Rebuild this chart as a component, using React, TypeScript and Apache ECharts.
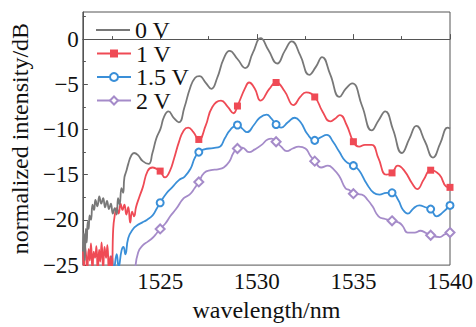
import React, { useEffect, useRef } from "react";
import * as echarts from "echarts";

const SERIES_NAMES = ["0 V", "1 V", "1.5 V", "2 V"];
const COLORS = ["#787878", "#ef4a55", "#3a8fd8", "#a58bc9"];
const MARKER_X = [1525, 1527, 1529, 1531, 1533, 1535, 1537, 1539, 1540];
const X_LABELS = [1525, 1530, 1535, 1540];
const X_MINOR = [1522.5, 1527.5, 1532.5, 1537.5];
const Y_LABELS = [-25, -20, -15, -10, -5, 0];
const Y_MINOR = [-22.5, -17.5, -12.5, -7.5, -2.5, 2.5];

const WL_0V = [1521.0, 1521.05, 1521.1, 1521.15, 1521.2, 1521.25, 1521.3, 1521.35, 1521.42, 1521.5, 1521.58, 1521.65, 1521.75, 1521.85, 1521.95, 1522.05, 1522.15, 1522.25, 1522.35, 1522.45, 1522.55, 1522.65, 1522.75, 1522.82, 1522.9, 1523.0, 1523.08, 1523.15, 1523.25, 1523.35, 1523.5, 1523.65, 1523.84, 1524.1, 1524.4, 1524.6, 1524.8, 1525.02, 1525.2, 1525.43, 1525.7, 1525.97, 1526.25, 1526.55, 1526.8, 1527.03, 1527.35, 1527.65, 1527.95, 1528.3, 1528.59, 1529.0, 1529.4, 1529.8, 1530.2, 1530.6, 1531.06, 1531.45, 1531.81, 1532.25, 1532.72, 1533.05, 1533.38, 1533.8, 1534.28, 1534.6, 1534.94, 1535.45, 1535.95, 1536.3, 1536.65, 1537.05, 1537.51, 1537.9, 1538.26, 1538.7, 1539.12, 1539.5, 1539.88, 1540];
const DB_0V = [-23.5, -21.5, -24.5, -21.0, -22.5, -20.2, -21.0, -19.5, -20.0, -18.3, -18.9, -17.8, -18.5, -17.4, -18.2, -17.6, -18.6, -17.9, -18.8, -18.2, -19.3, -18.7, -19.4, -17.6, -18.3, -16.5, -17.0, -15.3, -14.6, -13.8, -12.9, -12.6, -12.8, -13.5, -13.8, -12.6, -11.0, -9.9, -8.6, -8.0, -8.7, -9.2, -7.6, -5.4, -4.3, -4.1, -4.8, -5.5, -4.3, -2.1, -1.3, -2.2, -3.2, -1.5, 0.1, -1.2, -2.7, -1.3, -0.25, -1.8, -3.95, -3.1, -2.0, -3.9, -6.4, -5.5, -4.9, -7.4, -10.1, -9.0, -8.0, -10.0, -12.6, -11.0, -9.6, -11.3, -13.1, -11.5, -9.8, -9.9];

const WL_1V = [1521.0, 1521.05, 1521.1, 1521.17, 1521.22, 1521.3, 1521.36, 1521.42, 1521.5, 1521.56, 1521.63, 1521.7, 1521.77, 1521.84, 1521.9, 1521.97, 1522.05, 1522.12, 1522.2, 1522.27, 1522.35, 1522.42, 1522.5, 1522.57, 1522.65, 1522.75, 1522.85, 1522.95, 1523.05, 1523.15, 1523.25, 1523.35, 1523.45, 1523.55, 1523.65, 1523.75, 1523.9, 1524.1, 1524.35, 1524.6, 1524.85, 1525.0, 1525.25, 1525.5, 1525.72, 1525.97, 1526.22, 1526.45, 1526.72, 1527.0, 1527.35, 1527.7, 1528.15, 1528.5, 1528.8, 1529.0, 1529.4, 1529.6, 1529.9, 1530.2, 1530.65, 1531.0, 1531.45, 1531.9, 1532.25, 1532.55, 1533.0, 1533.4, 1533.8, 1534.05, 1534.3, 1534.65, 1535.0, 1535.3, 1535.6, 1535.95, 1536.3, 1536.7, 1537.0, 1537.3, 1537.65, 1538.05, 1538.3, 1538.65, 1539.0, 1539.45, 1539.8, 1540];
const DB_1V = [-23.0, -25.5, -22.8, -24.0, -26.0, -23.2, -24.5, -22.6, -25.8, -23.5, -24.2, -22.9, -26.0, -23.3, -24.6, -22.5, -25.5, -23.0, -24.2, -22.8, -26.0, -24.0, -25.5, -21.0, -19.5, -18.7, -19.3, -18.2, -18.9, -18.3, -19.4, -18.6, -20.3, -19.1, -19.6, -18.6, -17.6, -16.4, -14.6, -14.2, -14.4, -14.6, -15.3, -14.6, -13.2, -11.4, -10.1, -9.8, -10.3, -11.1, -9.6, -7.5, -6.8, -7.5, -8.2, -7.4, -5.4, -4.8, -5.5, -6.8, -5.5, -4.8, -5.8, -7.3, -6.4, -5.9, -6.4, -8.0, -9.1, -8.8, -8.4, -9.5, -11.35, -11.9, -11.7, -11.7, -13.2, -15.0, -14.8, -14.0, -14.6, -16.0, -16.6, -15.5, -14.5, -15.0, -16.3, -16.4];

const WL_15V = [1522.4, 1522.5, 1522.6, 1522.75, 1522.85, 1523.0, 1523.1, 1523.2, 1523.35, 1523.6, 1523.81, 1524.06, 1524.31, 1524.61, 1524.81, 1525.0, 1525.31, 1525.62, 1525.97, 1526.27, 1526.58, 1526.78, 1527.0, 1527.28, 1527.74, 1528.09, 1528.34, 1528.64, 1529.0, 1529.25, 1529.5, 1529.85, 1530.15, 1530.51, 1530.76, 1531.0, 1531.26, 1531.61, 1531.97, 1532.27, 1532.62, 1533.0, 1533.28, 1533.63, 1533.93, 1534.28, 1534.59, 1535.0, 1535.29, 1535.69, 1536.05, 1536.35, 1536.7, 1537.0, 1537.32, 1537.57, 1537.82, 1538.12, 1538.42, 1538.72, 1539.0, 1539.31, 1539.61, 1540];
const DB_15V = [-25.5, -24.0, -25.5, -23.8, -25.2, -23.4, -23.0, -23.8, -22.0, -21.0, -20.6, -20.3, -20.0, -19.5, -18.8, -18.1, -17.1, -16.4, -15.6, -15.2, -14.3, -13.2, -12.5, -12.2, -12.05, -11.9, -11.0, -10.0, -9.5, -9.9, -10.3, -9.5, -8.7, -8.35, -8.8, -9.45, -9.8, -9.2, -8.7, -9.2, -10.5, -11.2, -10.9, -10.6, -11.3, -12.5, -13.5, -14.0, -14.5, -16.0, -17.0, -17.2, -17.0, -17.0, -17.8, -18.9, -19.3, -18.7, -18.4, -18.6, -18.8, -19.6, -19.2, -18.4];

const WL_2V = [1523.71, 1523.86, 1524.11, 1524.36, 1524.6, 1524.81, 1525.0, 1525.27, 1525.52, 1525.82, 1526.22, 1526.52, 1526.78, 1527.0, 1527.28, 1527.63, 1527.99, 1528.29, 1528.59, 1528.79, 1529.0, 1529.25, 1529.6, 1529.9, 1530.25, 1530.56, 1530.76, 1531.0, 1531.26, 1531.56, 1531.86, 1532.17, 1532.52, 1532.77, 1533.0, 1533.33, 1533.68, 1533.98, 1534.28, 1534.59, 1534.79, 1535.0, 1535.44, 1535.74, 1535.99, 1536.3, 1536.65, 1537.0, 1537.36, 1537.56, 1537.81, 1538.17, 1538.47, 1538.72, 1539.0, 1539.47, 1539.72, 1540];
const DB_2V = [-25.5, -23.6, -22.8, -22.4, -22.0, -21.5, -21.0, -20.4, -19.6, -18.8, -17.6, -17.2, -16.5, -15.8, -14.8, -14.5, -14.4, -14.2, -13.5, -12.6, -12.1, -12.0, -12.5, -12.2, -11.7, -11.1, -11.0, -11.35, -11.9, -12.4, -12.1, -11.9, -12.1, -12.9, -13.5, -14.2, -14.0, -14.4, -15.2, -16.5, -16.7, -17.1, -17.2, -17.8, -18.5, -19.6, -19.9, -20.1, -20.3, -20.7, -21.4, -21.4, -21.2, -21.4, -21.7, -21.9, -21.6, -21.4];

const SYMBOLS = ["none", "rect", "emptyCircle", "emptyDiamond"];
const SYMBOL_SIZES = [0, 7, 7, 9];
const LEGEND_TOPS = [18, 41.5, 65, 88.5];

const FONT = "Liberation Serif";
const fmt = (v: number) => (v < 0 ? "\u2212" + Math.abs(v) : String(v));

function build(xs: number[], ys: number[], marked: boolean) {
  return xs.map((x, i) => {
    const isM = marked && MARKER_X.indexOf(x) >= 0;
    return isM ? { value: [x, ys[i]] } : { value: [x, ys[i]], symbol: "none" };
  });
}

export default function App() {
  const ref = useRef<HTMLDivElement>(null);
  useEffect(() => {
    if (!ref.current) return;
    const chart = echarts.init(ref.current, null, { renderer: "svg" });
    const allX = [WL_0V, WL_1V, WL_15V, WL_2V];
    const allY = [DB_0V, DB_1V, DB_15V, DB_2V];
    const series = SERIES_NAMES.map((name, k) => ({
      name,
      type: "line",
      xAxisIndex: 0,
      yAxisIndex: 0,
      data: build(allX[k], allY[k], k > 0),
      smooth: 0.5,
      symbol: SYMBOLS[k],
      symbolSize: SYMBOL_SIZES[k],
      showSymbol: k > 0,
      showAllSymbol: true,
      clip: true,
      lineStyle: { color: COLORS[k], width: 1.8 },
      itemStyle: { color: COLORS[k], borderWidth: 1.3 },
      z: 10 - k,
    }));
    const legends = SERIES_NAMES.map((name, k) => ({
      show: true,
      orient: "vertical",
      left: 96,
      top: LEGEND_TOPS[k],
      padding: 0,
      itemWidth: 34,
      itemHeight: 10,
      itemGap: 0,
      data: [k === 0 ? { name, icon: "path://M0 4 L34 4 L34 6 L0 6 Z" } : { name }],
      textStyle: { fontFamily: FONT, fontSize: 24, color: "#111111", lineHeight: 24 },
    }));
    const axisLineStyle = { color: "#555555", width: 1 };
    chart.setOption({
      animation: false,
      backgroundColor: "#ffffff",
      grid: {
        left: 76,
        right: 22,
        top: 12,
        bottom: 52,
        show: true,
        borderColor: "#555555",
        borderWidth: 1,
        backgroundColor: "transparent",
      },
      legend: legends,
      xAxis: [
        {
          type: "value",
          min: 1521,
          max: 1540,
          name: "wavelength/nm",
          nameLocation: "middle",
          nameGap: 31,
          nameTextStyle: { fontFamily: FONT, fontSize: 24, color: "#111111" },
          axisLine: { lineStyle: axisLineStyle },
          axisTick: { inside: true, length: 5, customValues: X_LABELS, lineStyle: axisLineStyle },
          axisLabel: {
            customValues: X_LABELS,
            fontFamily: FONT,
            fontSize: 23,
            color: "#111111",
            margin: 5,
            formatter: (v: number) => String(v),
          },
          splitLine: { show: false },
        },
        {
          type: "value",
          min: 1521,
          max: 1540,
          position: "bottom",
          axisLine: { show: false },
          axisTick: { inside: true, length: 3, customValues: X_MINOR, lineStyle: axisLineStyle },
          axisLabel: { show: false },
          splitLine: { show: false },
        },
      ],
      yAxis: [
        {
          type: "value",
          min: -25,
          max: 3,
          name: "normalized intensity/dB",
          nameLocation: "middle",
          nameGap: 44,
          nameTextStyle: { fontFamily: FONT, fontSize: 24, color: "#111111" },
          axisLine: { lineStyle: axisLineStyle },
          axisTick: { inside: true, length: 5, customValues: Y_LABELS, lineStyle: axisLineStyle },
          axisLabel: {
            customValues: Y_LABELS,
            fontFamily: FONT,
            fontSize: 23,
            color: "#111111",
            margin: 4,
            formatter: (v: number) => fmt(v),
          },
          splitLine: { show: false },
        },
        {
          type: "value",
          min: -25,
          max: 3,
          position: "left",
          axisLine: { show: false },
          axisTick: { inside: true, length: 3, customValues: Y_MINOR, lineStyle: axisLineStyle },
          axisLabel: { show: false },
          splitLine: { show: false },
        },
      ],
      series,
    });
    return () => chart.dispose();
  }, []);
  return <div ref={ref} style={{ width: 476, height: 327, position: "absolute", left: 0, top: 0 }} />;
}
